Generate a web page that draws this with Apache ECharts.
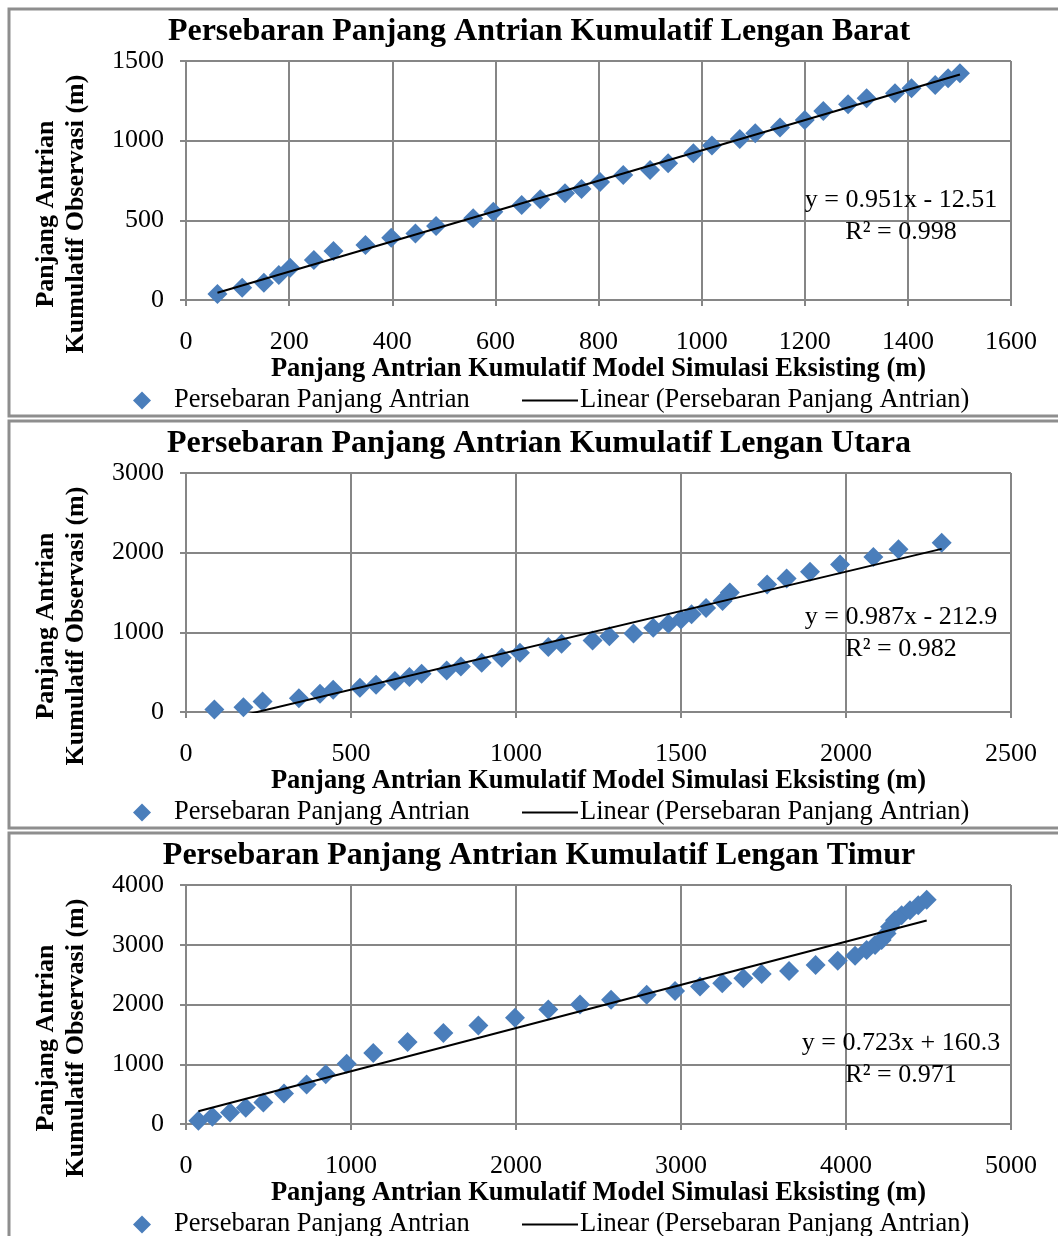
<!DOCTYPE html>
<html><head><meta charset="utf-8">
<script src="https://cdn.jsdelivr.net/npm/echarts@6/dist/echarts.min.js"></script>
<style>html,body{margin:0;padding:0;background:#fff}#c{width:1058px;height:1236px}</style>
</head><body><div id="c"></div><script>
// ---- data ----
const titles = [
  'Persebaran Panjang Antrian Kumulatif Lengan Barat',
  'Persebaran Panjang Antrian Kumulatif Lengan Utara',
  'Persebaran Panjang Antrian Kumulatif Lengan Timur'
];
const xAxisTitle = 'Panjang Antrian Kumulatif Model Simulasi Eksisting (m)';
const yAxisTitle = 'Panjang Antrian\nKumulatif Observasi (m)';
const scatterName = 'Persebaran Panjang Antrian';
const trendName = 'Linear (Persebaran Panjang Antrian)';

const baratX = [61,109,151,180,202,248,286,348,398,445,485,557,596,651,687,735,767,803,848,900,935,984,1020,1074,1104,1152,1200,1236,1284,1320,1375,1407,1453,1478,1501];
const baratY = [38,77,109,157,203,251,308,345,391,418,464,513,554,596,632,670,697,740,785,816,858,921,969,1011,1046,1082,1130,1186,1228,1266,1297,1329,1350,1392,1423];

const utaraX = [86,174,232,342,406,446,527,576,633,677,714,790,833,896,957,1012,1098,1138,1232,1283,1356,1416,1462,1500,1532,1576,1626,1648,1761,1820,1891,1982,2083,2159,2290];
const utaraY = [31,60,132,174,229,279,304,342,388,438,480,522,572,619,682,745,815,858,899,950,984,1059,1109,1160,1226,1306,1394,1499,1600,1675,1759,1851,1947,2044,2123];

const timurX = [75,160,267,362,469,594,731,847,974,1135,1343,1560,1772,1994,2196,2388,2576,2792,2964,3115,3250,3378,3489,3655,3816,3950,4055,4125,4176,4216,4246,4267,4297,4337,4388,4438,4489];
const timurY = [55,122,193,272,360,510,660,833,1010,1188,1372,1522,1650,1778,1917,2000,2078,2162,2228,2300,2355,2438,2512,2562,2662,2733,2817,2912,2995,3078,3188,3300,3412,3495,3578,3662,3755];

// trend: [slope, intercept, R²]
const baratTrend = [0.951, -12.51, 0.998];
const utaraTrend = [0.987, -212.9, 0.982];
const timurTrend = [0.723, 160.3, 0.971];
const trendText = ['y = 0.951x - 12.51\nR² = 0.998', 'y = 0.987x - 212.9\nR² = 0.982', 'y = 0.723x + 160.3\nR² = 0.971'];

// axis ranges: [min, max, interval]
const xRanges = [[0,1600,200],[0,2500,500],[0,5000,1000]];
const yRanges = [[0,1500,500],[0,3000,1000],[0,4000,1000]];

// ---- layout ----
const FONT = '"Liberation Serif","Times New Roman",serif';
const GRID = '#868686';
const BLUE = '#4A7EBB';
const panelTop = [9, 421, 833];
const panelH = [407, 407, 500];
const eqY = [191, 196, 210];
const datasets = [[baratX, baratY, baratTrend],[utaraX, utaraY, utaraTrend],[timurX, timurY, timurTrend]];
const plain = v => String(v);

const grid = [], xAxis = [], yAxis = [], series = [], legend = [], graphic = [];
datasets.forEach(([xs, ys, tr], i) => {
  const T = panelTop[i];
  grid.push({left: 186, width: 825, top: T + 52, height: 239, containLabel: false, outerBoundsMode: 'none'});
  const axisCommon = {
    type: 'value', gridIndex: i,
    axisLine: {show: true, lineStyle: {color: GRID, width: 2}},
    axisTick: {show: true, inside: false, length: 6, lineStyle: {color: GRID, width: 2}},
    splitLine: {show: true, lineStyle: {color: GRID, width: 2}},
  };
  xAxis.push(Object.assign({}, axisCommon, {
    min: xRanges[i][0], max: xRanges[i][1], interval: xRanges[i][2],
    axisLabel: {fontFamily: FONT, fontSize: 26, color: '#000', margin: 29, formatter: plain},
    name: xAxisTitle, nameLocation: 'middle', nameGap: 55,
    nameTextStyle: {fontFamily: FONT, fontSize: 26.5, fontWeight: 'bold', color: '#000'}
  }));
  yAxis.push(Object.assign({}, axisCommon, {
    min: yRanges[i][0], max: yRanges[i][1], interval: yRanges[i][2],
    axisLabel: {fontFamily: FONT, fontSize: 26, color: '#000', margin: 22, formatter: plain}
  }));
  series.push({
    type: 'scatter', name: scatterName, xAxisIndex: i, yAxisIndex: i,
    symbol: 'diamond', symbolSize: 20, itemStyle: {color: BLUE, opacity: 1},
    data: xs.map((x, k) => [x, ys[k]]), z: 2
  });
  const x0 = Math.min(...xs), x1 = Math.max(...xs);
  series.push({
    type: 'line', name: trendName, xAxisIndex: i, yAxisIndex: i,
    symbol: 'none', showSymbol: false, clip: true, lineStyle: {color: '#000', width: 2}, itemStyle: {color: '#000'},
    data: [[x0, tr[0]*x0 + tr[1]], [x1, tr[0]*x1 + tr[1]]], z: 3
  });
  legend.push({left: 133, top: T + 378, padding: 0, itemWidth: 18, itemHeight: 18,
    data: [{name: scatterName, icon: 'diamond'}],
    textStyle: {fontFamily: FONT, fontSize: 26.5, color: '#000', padding: [0, 0, 0, 18]}});
  legend.push({left: 522, top: T + 378, padding: 0, itemWidth: 56, itemHeight: 2,
    data: [{name: trendName, icon: 'rect'}],
    textStyle: {fontFamily: FONT, fontSize: 26.5, color: '#000', padding: [0, 0, 0, -3]}});
  // border
  graphic.push({type: 'rect', shape: {x: 9, y: T, width: 1100, height: panelH[i]},
    style: {fill: 'none', stroke: '#8e8e8e', lineWidth: 3}, z: 0, silent: true});
  // title
  graphic.push({type: 'text', x: 539, y: T + 23, z: 10,
    style: {text: titles[i], fontFamily: FONT, fontSize: 32, fontWeight: 'bold', fill: '#000', align: 'center', verticalAlign: 'middle'}});
  // y axis title
  graphic.push({type: 'text', x: 61, y: T + 205, rotation: Math.PI / 2, z: 10,
    style: {text: yAxisTitle, fontFamily: FONT, fontSize: 26, fontWeight: 'bold', fill: '#000', align: 'center', verticalAlign: 'middle', lineHeight: 30}});
  // equation
  graphic.push({type: 'text', x: 901, y: T + eqY[i] + 16, z: 10,
    style: {text: trendText[i], fontFamily: FONT, fontSize: 26, fill: '#000', align: 'center', verticalAlign: 'middle', lineHeight: 32}});
});

const chart = echarts.init(document.getElementById('c'), null, {renderer: 'canvas'});
chart.setOption({
  backgroundColor: '#fff', animation: false,
  grid, xAxis, yAxis, series, legend, graphic
});
</script></body></html>
